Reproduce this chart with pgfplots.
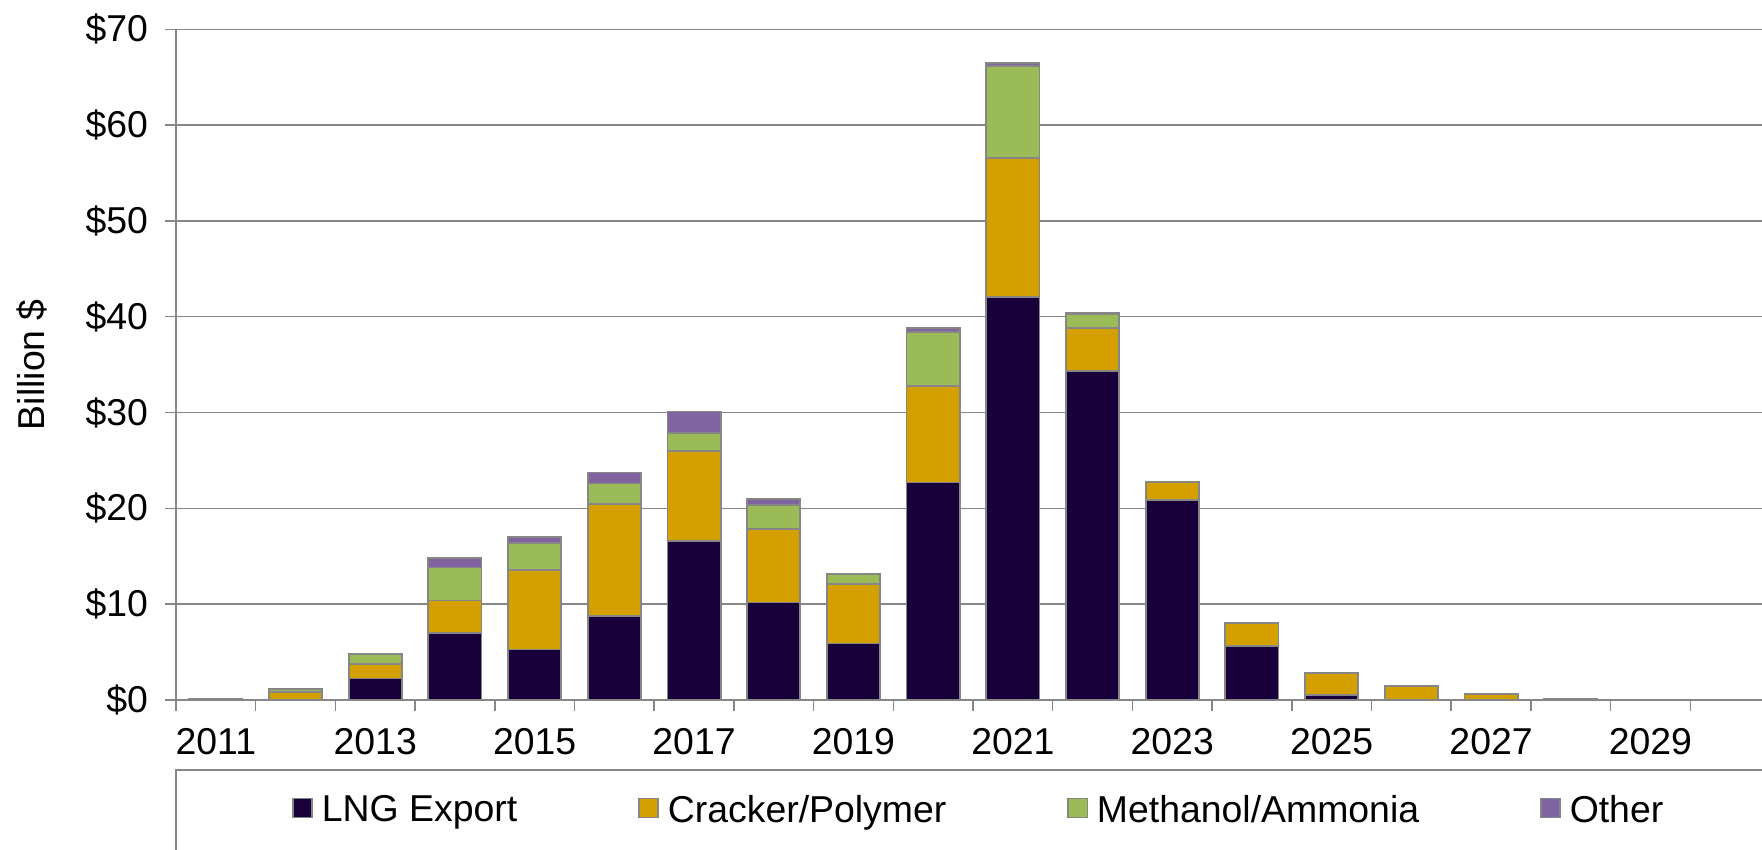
\documentclass[border=0pt]{standalone}
\usepackage{pgfplots}
\pgfplotsset{compat=1.18}
\usepackage{pgfplotstable}
\usepackage{fontspec}
\setmainfont{Liberation Sans}

\definecolor{lng}{RGB}{24,0,58}
\definecolor{cracker}{RGB}{211,160,0}
\definecolor{methanol}{RGB}{155,187,89}
\definecolor{other}{RGB}{128,100,162}
\definecolor{edge}{RGB}{134,134,134}

% Capital spending by project type, billion $
\pgfplotstableread{
idx year lng   cracker methanol other
0   2011 0     0.10    0        0
1   2012 0     0.87    0.30     0
2   2013 2.25  1.51    1.05     0
3   2014 7.00  3.38    3.45     0.97
4   2015 5.26  8.33    2.82     0.59
5   2016 8.75  11.72   2.13     1.15
6   2017 16.60 9.40    1.90     2.20
7   2018 10.17 7.70    2.50     0.63
8   2019 5.90  6.20    1.00     0.10
9   2020 22.70 10.05   5.65     0.40
10  2021 42.06 14.54   9.57     0.33
11  2022 34.35 4.45    1.50     0.10
12  2023 20.90 1.88    0        0
13  2024 5.66  2.38    0        0
14  2025 0.50  2.30    0        0
15  2026 0     1.43    0        0
16  2027 0     0.60    0        0
17  2028 0     0.15    0        0
18  2029 0     0.04    0        0
19  2030 0     0       0        0
}\capex

\begin{document}
\begin{tikzpicture}[font=\fontsize{18.7}{22}\selectfont]
\useasboundingbox (0,0) rectangle (881pt,425pt);
\clip (0,0) rectangle (881pt,425pt);
\begin{axis}[
  name=ax,
  at={(88pt,75pt)}, anchor=south west,
  scale only axis, width=797pt, height=335.35pt,
  ybar stacked, bar width=0.668,
  xmin=-0.5, xmax=19.5, ymin=0, ymax=70,
  axis x line*=bottom, axis y line*=left,
  axis line style={edge, line width=0.75pt},
  ytick={0,10,...,70},
  yticklabel={\$\pgfmathprintnumber{\tick}},
  /pgf/number format/assume math mode=true,
  yticklabel style={xshift=-5pt},
  ymajorgrids,
  major grid style={edge, line width=0.75pt},
  xtick={0,2,...,18},
  xticklabels={2011,2013,2015,2017,2019,2021,2023,2025,2027,2029},
  minor xtick={-0.5,0.5,...,19.5},
  major x tick style={draw=none},
  tick style={edge, line width=0.75pt},
  tick align=outside,
  major tick length=5.5pt, minor tick length=5.3pt,
  xticklabel style={yshift=-5pt},
  ylabel={Billion \$},
  every axis y label/.style={at={(rel axis cs:0,0.5)}, xshift=-72pt, rotate=90, anchor=center},
  every axis plot/.append style={draw=edge, line width=0.9pt},
  legend columns=4,
  legend style={at={(rel axis cs:0.503,0)}, yshift=-55pt, anchor=center,
    draw=none, fill=none, column sep=0pt,
    nodes={inner xsep=0pt},
    /tikz/every odd column/.append style={column sep=4.5pt},
    /tikz/every even column/.append style={column sep=60.5pt}},
  legend image code/.code={\draw[#1, draw=edge, line width=0.7pt] (0pt,-3.8pt) rectangle (9.6pt,5.8pt);},
]
\addplot[fill=lng] table[x=idx, y=lng] {\capex};
\addplot[fill=cracker] table[x=idx, y=cracker] {\capex};
\addplot[fill=methanol] table[x=idx, y=methanol] {\capex};
\addplot[fill=other] table[x=idx, y=other] {\capex};
\legend{LNG Export, Cracker/Polymer, Methanol/Ammonia, Other}
\end{axis}
\draw[edge, line width=0.75pt] ([yshift=-35pt]ax.south west) rectangle ++(810pt,-60pt);
\end{tikzpicture}
\end{document}
